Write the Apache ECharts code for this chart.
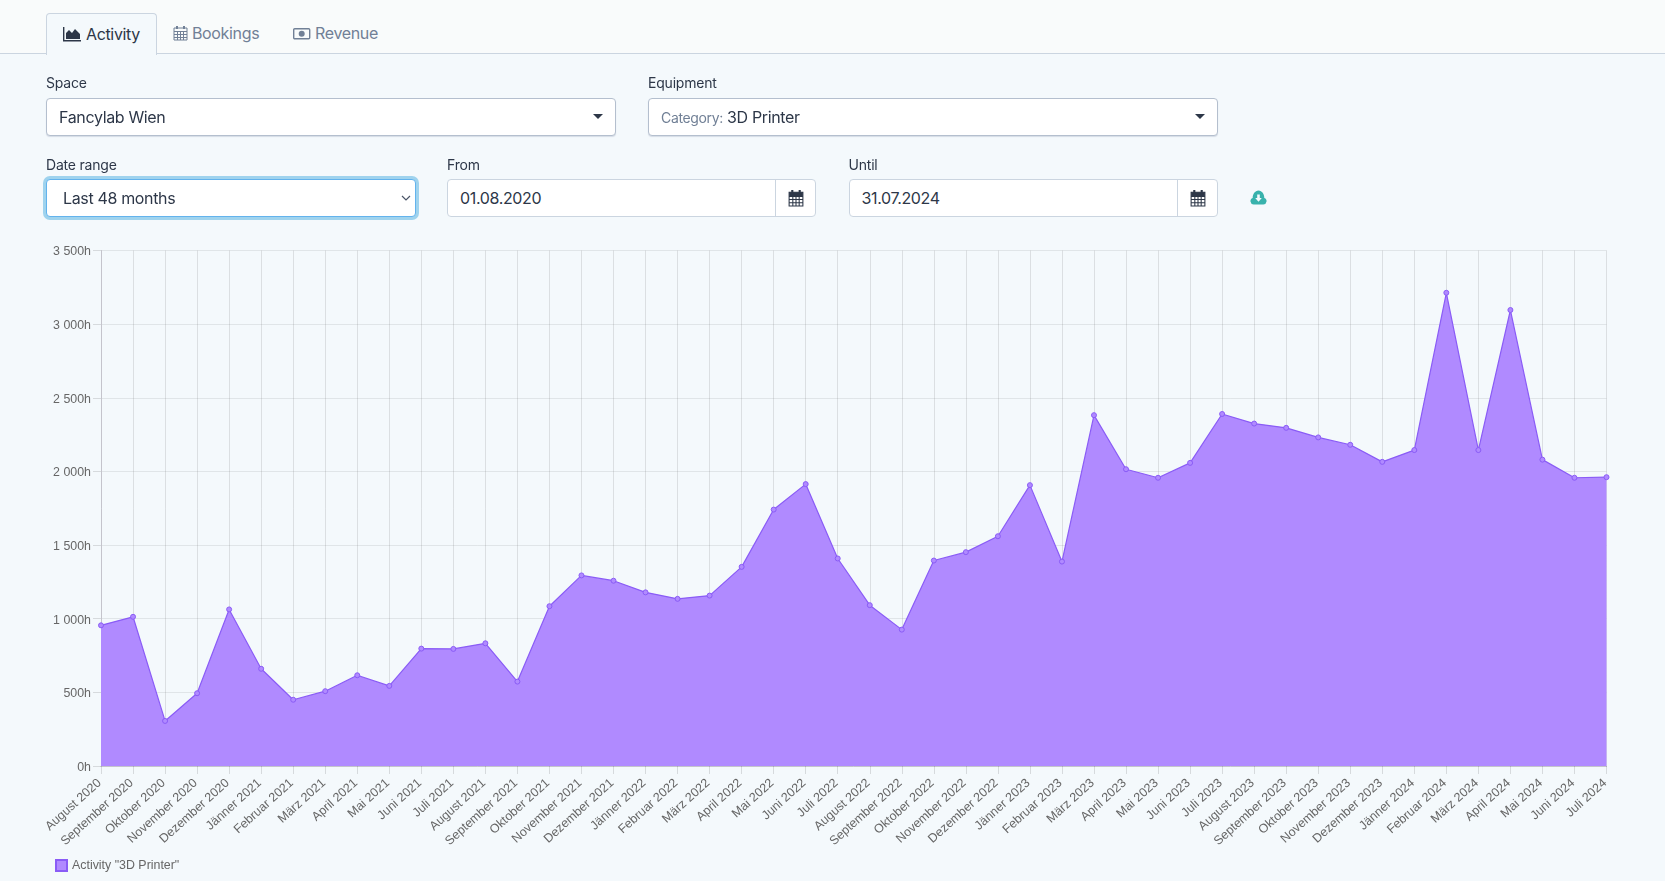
<!DOCTYPE html>
<html lang="en">

<head>
    <meta charset="UTF-8" />
    <title>Activity</title>
    <style>
        html,
        body {
            margin: 0;
            padding: 0;
            width: 1665px;
            height: 881px;
            overflow: hidden;
            background: #f4f9fc;
            font-family: Inter, "Noto Sans", sans-serif;
            color: #2d3748;
        }

        .topbar {
            position: absolute;
            left: 0;
            top: 0;
            width: 1665px;
            height: 53px;
            background: #f9fbfb;
            border-bottom: 1px solid #cbd5e0;
        }

        .tab {
            position: absolute;
            top: 13px;
            height: 40px;
            line-height: 40px;
            font-size: 16px;
            letter-spacing: -0.35px;
            color: #718096;
            white-space: nowrap;
        }

        .tab svg {
            position: absolute;
            top: 12px;
            left: 0;
        }

        .tab.active {
            left: 46px;
            width: 109px;
            height: 41px;
            background: #f4f9fc;
            border: 1px solid #cbd5e0;
            border-bottom: 0;
            border-radius: 4px 4px 0 0;
            color: #2d3748;
        }

        .lbl {
            position: absolute;
            font-size: 14px;
            line-height: 20px;
            letter-spacing: -0.2px;
            color: #2d3748;
        }

        .field {
            position: absolute;
            box-sizing: border-box;
            background: #fff;
            border: 1px solid #cbd5e0;
            border-radius: 4px;
            font-size: 16px;
            letter-spacing: -0.35px;
            white-space: nowrap;
        }

        .select2 {
            top: 98px;
            height: 37.5px;
            line-height: 36px;
            padding-left: 12px;
            border-color: #b4bfce;
            box-shadow: 0 1px 1px #d5dce6;
        }

        .select2 small {
            font-size: 14px;
            color: #718096;
        }

        .caret {
            position: absolute;
            right: 12px;
            top: 15px;
            width: 0;
            height: 0;
            border-left: 5px solid transparent;
            border-right: 5px solid transparent;
            border-top: 5px solid #2d3748;
        }

        .date {
            top: 179px;
            height: 38px;
            line-height: 36px;
            padding-left: 12px;
        }

        .date i {
            position: absolute;
            right: 0;
            top: 0;
            width: 39px;
            height: 36px;
            border-left: 1px solid #cbd5e0;
        }

        .date svg {
            position: absolute;
            left: 12px;
            top: 9px;
        }

        #chart {
            position: absolute;
            left: 0;
            top: 0;
            width: 1665px;
            height: 881px;
        }
    </style>
</head>

<body>
    <div id="chart"></div>

    <div class="topbar">
        <div class="tab active">
            <svg style="left:16px" width="18" height="16" viewBox="0 0 18 16">
                <path d="M0 1h1.4v13H18v1.5H0z M3 13V7l3-3 3 3 3-4 5 5v5z" fill="#2d3748" />
            </svg>
            <span style="position:absolute;left:39px">Activity</span>
        </div>
        <div class="tab" style="left:173px">
            <svg width="15" height="16" viewBox="0 0 15 16">
                <path d="M1 3h13v12H1z M1 6.5h13 M1 9.5h13 M1 12.5h13 M4.5 6.5V15 M7.5 6.5V15 M10.5 6.5V15" fill="none" stroke="#718096" />
                <path d="M4 1v3 M11 1v3" stroke="#718096" stroke-width="2" />
            </svg>
            <span style="position:absolute;left:19px">Bookings</span>
        </div>
        <div class="tab" style="left:293px">
            <svg width="18" height="14" viewBox="0 0 18 14" style="top:14px">
                <rect x="0.7" y="1.7" width="16" height="10" rx="1" fill="none" stroke="#718096" stroke-width="1.4" />
                <circle cx="8.7" cy="6.7" r="3" fill="#718096" />
            </svg>
            <span style="position:absolute;left:22px">Revenue</span>
        </div>
    </div>

    <div class="lbl" style="left:46px;top:73px">Space</div>
    <div class="field select2" style="left:46px;width:570px">Fancylab Wien<span class="caret"></span></div>

    <div class="lbl" style="left:648px;top:73px">Equipment</div>
    <div class="field select2" style="left:648px;width:570px"><small>Category:</small> 3D Printer<span class="caret"></span></div>

    <div class="lbl" style="left:46px;top:155px">Date range</div>
    <div class="field" style="left:46px;top:179px;width:370px;height:38px;line-height:36px;padding-left:16px;border-color:#63b3ed;box-shadow:0 0 0 3px #9fd3ee">Last 48 months
        <svg style="position:absolute;right:4px;top:15px" width="10" height="6" viewBox="0 0 10 6">
            <path d="M1 1l4 4 4-4" fill="none" stroke="#4a5568" stroke-width="1.2" />
        </svg>
    </div>

    <div class="lbl" style="left:447px;top:155px">From</div>
    <div class="field date" style="left:447px;width:369px">01.08.2020<i>
        <svg width="16" height="18" viewBox="0 0 15 17">
            <path d="M1 3h13v13H1z M1 7h13 M1 10h13 M1 13h13 M4.5 7V16 M7.5 7V16 M10.5 7V16" fill="none" stroke="#2d3748" />
            <path d="M1 3h13v4H1z" fill="#2d3748" />
            <path d="M4 1v3 M11 1v3" stroke="#2d3748" stroke-width="2" />
        </svg></i></div>

    <div class="lbl" style="left:848.5px;top:155px">Until</div>
    <div class="field date" style="left:848.5px;width:369px">31.07.2024<i>
        <svg width="16" height="18" viewBox="0 0 15 17">
            <path d="M1 3h13v13H1z M1 7h13 M1 10h13 M1 13h13 M4.5 7V16 M7.5 7V16 M10.5 7V16" fill="none" stroke="#2d3748" />
            <path d="M1 3h13v4H1z" fill="#2d3748" />
            <path d="M4 1v3 M11 1v3" stroke="#2d3748" stroke-width="2" />
        </svg></i></div>

    <svg style="position:absolute;left:1250px;top:190px" width="17" height="15" viewBox="0 0 17 15">
        <path d="M3.6 14.5a3.4 3.4 0 0 1-.9-6.6C2.6 4.4 5 .6 8.5.6s5.900 3.800 5.800 7.300a3.400 3.400 0 0 1-.9 6.600z" fill="#38b2ac" />
        <path d="M7.200 4.500h2.600v3.600h2L8.500 11.800 5.200 8.100h2z" fill="#f4f9fc" />
    </svg>

    <script src="https://cdn.jsdelivr.net/npm/echarts@6/dist/echarts.min.js"></script>
    <script type="text/javascript">
        var months = [
            'August 2020', 'September 2020', 'Oktober 2020', 'November 2020', 'Dezember 2020',
            'Jänner 2021', 'Februar 2021', 'März 2021', 'April 2021', 'Mai 2021', 'Juni 2021', 'Juli 2021',
            'August 2021', 'September 2021', 'Oktober 2021', 'November 2021', 'Dezember 2021',
            'Jänner 2022', 'Februar 2022', 'März 2022', 'April 2022', 'Mai 2022', 'Juni 2022', 'Juli 2022',
            'August 2022', 'September 2022', 'Oktober 2022', 'November 2022', 'Dezember 2022',
            'Jänner 2023', 'Februar 2023', 'März 2023', 'April 2023', 'Mai 2023', 'Juni 2023', 'Juli 2023',
            'August 2023', 'September 2023', 'Oktober 2023', 'November 2023', 'Dezember 2023',
            'Jänner 2024', 'Februar 2024', 'März 2024', 'April 2024', 'Mai 2024', 'Juni 2024', 'Juli 2024'
        ];
        var activityHours = [
            955, 1013, 306, 494, 1063,
            660, 450, 508, 616, 544, 797, 795,
            833, 573, 1085, 1294, 1258,
            1179, 1135, 1157, 1352, 1741, 1914, 1409,
            1092, 926, 1395, 1452, 1560,
            1907, 1388, 2382, 2015, 1957, 2058, 2390,
            2325, 2296, 2231, 2181, 2065,
            2145, 3213, 2145, 3096, 2080, 1957, 1961
        ];
        var seriesName = 'Activity "3D Printer"';

        var chart = echarts.init(document.getElementById('chart'));
        var labelFont = '"Liberation Sans", Arial, sans-serif';

        function formatHours(v) {
            // thousands separated by a space, like 3 500h
            return String(v).replace(/\B(?=(\d{3})+$)/g, ' ') + 'h';
        }

        chart.setOption({
            animation: false,
            grid: { left: 101, right: 58.5, top: 250.5, bottom: 115 },
            legend: {
                left: 50,
                top: 854,
                itemWidth: 11,
                itemHeight: 11,
                itemGap: 5,
                icon: 'rect',
                textStyle: { color: '#666', fontSize: 12.4, fontFamily: labelFont },
                data: [seriesName]
            },
            xAxis: {
                type: 'category',
                boundaryGap: false,
                data: months,
                axisLine: { lineStyle: { color: '#c4c4cc', width: 1 } },
                axisTick: { length: 8, interval: 0, lineStyle: { color: 'rgba(0,0,0,0.12)' } },
                axisLabel: {
                    interval: 0,
                    rotate: 42,
                    margin: 14,
                    padding: [0, 2, 0, 0],
                    color: '#666',
                    fontSize: 12.5,
                    fontFamily: labelFont
                },
                splitLine: { show: true, interval: 0, lineStyle: { color: 'rgba(0,0,0,0.1)', width: 1 } }
            },
            yAxis: {
                type: 'value',
                min: 0,
                max: 3500,
                interval: 500,
                axisLine: { show: true, lineStyle: { color: '#c4c4cc', width: 1 } },
                axisTick: { show: true, length: 8, lineStyle: { color: 'rgba(0,0,0,0.12)' } },
                axisLabel: {
                    margin: 10,
                    color: '#666',
                    fontSize: 12.4,
                    fontFamily: labelFont,
                    verticalAlign: 'top',
                    lineHeight: 3,
                    formatter: formatHours
                },
                splitLine: { show: true, lineStyle: { color: 'rgba(0,0,0,0.08)', width: 1 } }
            },
            series: [{
                name: seriesName,
                type: 'line',
                data: activityHours,
                symbol: 'circle',
                symbolSize: 5,
                showAllSymbol: true,
                lineStyle: { color: '#8a5cf6', width: 1.2 },
                itemStyle: { color: '#b08aff', borderColor: '#8a5cf6', borderWidth: 1 },
                areaStyle: { color: '#b08aff', opacity: 1 }
            }]
        });

        window.addEventListener('resize', function () {
            chart.resize();
        });
    </script>
</body>

</html>
